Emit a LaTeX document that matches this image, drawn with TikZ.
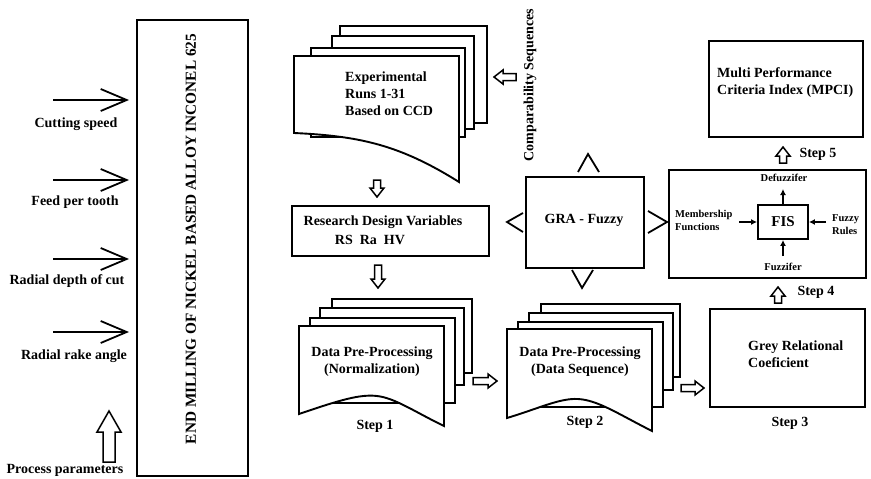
\documentclass[tikz,border=0pt]{standalone}
\usepackage{fontspec}
\setmainfont{Liberation Serif}
\usetikzlibrary{arrows.meta}
\newcommand{\hollowarrow}[4]{%
  \draw[line width=1.5pt, fill=white, line join=miter, shift={(#1,#2)}, rotate=#3]
    (0,0) -- (-9,7) -- (-9,3.5) -- (-#4,3.5) -- (-#4,-3.5) -- (-9,-3.5) -- (-9,-7) -- cycle;}
\begin{document}
\begin{tikzpicture}[x=1pt,y=-1pt,
  box/.style={draw, line width=1.9pt, fill=white},
  lbl/.style={font=\bfseries\fontsize{14}{17}\selectfont, inner sep=0pt},
  small/.style={font=\bfseries\fontsize{10.5}{13}\selectfont, inner sep=0pt},
  ln/.style={line width=1.8pt, line join=miter},
  inarrow/.style={line width=1.8pt, -{Straight Barb[length=26pt,width=22pt,line width=1.8pt]}},
  fisarrow/.style={line width=1.5pt, -{Latex[length=6pt,width=6pt]}},
]
\useasboundingbox[fill=white] (0,0) rectangle (871,479);

% ---------- left part ----------
\node[box, minimum width=111, minimum height=456, anchor=north west] (mill) at (136,19) {};
\node[lbl, rotate=90, font=\bfseries\fontsize{15.3}{17}\selectfont] (milltxt) at (191,239)
  {END MILLING OF NICKEL BASED ALLOY INCONEL 625};

\coordinate (a1) at (53,100);  \coordinate (b1) at (129,100);
\coordinate (a2) at (53,180);  \coordinate (b2) at (129,180);
\coordinate (a3) at (53,259);  \coordinate (b3) at (129,259);
\coordinate (a4) at (53,332);  \coordinate (b4) at (129,332);
\draw[inarrow] (a1) -- (b1);
\draw[inarrow] (a2) -- (b2);
\draw[inarrow] (a3) -- (b3);
\draw[inarrow] (a4) -- (b4);
\node[lbl] (cs) at (76,124) {Cutting speed};
\node[lbl] (fpt) at (75,202) {Feed per tooth};
\node[lbl] (rdc) at (67,281) {Radial depth of cut};
\node[lbl] (rra) at (74,356) {Radial rake angle};

\draw[line width=1.5pt, fill=white, line join=miter]
  (109,411) -- (121,432) -- (115,432) -- (115,462) -- (103,462) -- (103,432) -- (97,432) -- cycle;
\node[lbl] (pp) at (65,470) {Process parameters};

% ---------- experimental runs stack ----------
\draw[box] (340,26) rectangle (487,123);
\draw[box] (332,36) rectangle (474,129);
\draw[box] (311,48) rectangle (465,137);
\draw[box] (294,56) -- (459,56) -- (459,182) .. controls (400,145) and (360,136) .. (294,133) -- cycle;
\node[lbl, align=left, anchor=west] (exp) at (345,94) {Experimental\\Runs 1-31\\Based on CCD};

\hollowarrow{494}{77}{180}{22}
\node[lbl, rotate=90] (comp) at (530,85) {Comparability Sequences};

\hollowarrow{377}{197}{-90}{17}

% ---------- research design variables ----------
\node[box, minimum width=197, minimum height=50] (rdv) at (390.5,231) {};
\node[lbl] (rdv1) at (383,222) {Research Design Variables};
\node[lbl] (rdv2) at (370,240) {RS~~Ra~~HV};

\hollowarrow{378}{288}{-90}{23}

% ---------- data pre-processing 1 ----------
\draw[box] (332,299) rectangle (472,373);
\draw[box] (320,308) rectangle (464,385);
\draw[box] (310,318) rectangle (455,403);
\draw[box] (299,326) -- (444,326) -- (444,426)
  .. controls (415,412) and (395,398) .. (377,396)
  .. controls (360,394) and (340,400) .. (299,414) -- cycle;
\node[lbl, align=center] (dp1) at (372,362) {Data Pre-Processing\\(Normalization)};
\node[lbl] (s1) at (375,426) {Step 1};

\hollowarrow{497}{381}{0}{24}

% ---------- data pre-processing 2 ----------
\draw[box] (541,304) rectangle (680,377);
\draw[box] (529,313) rectangle (673,390);
\draw[box] (518,322) rectangle (663,407);
\draw[box] (507,329) -- (652,329) -- (652,431)
  .. controls (620,415) and (598,400) .. (578,399)
  .. controls (560,398) and (540,408) .. (507,418) -- cycle;
\node[lbl, align=center] (dp2) at (580,361.5) {Data Pre-Processing\\(Data Sequence)};
\node[lbl] (s2) at (585,422) {Step 2};

\hollowarrow{704}{388}{0}{23}

% ---------- GRA - Fuzzy ----------
\node[box, minimum width=118, minimum height=91] (gra) at (585,222.5) {};
\node[lbl] (gratxt) at (584,220) {GRA - Fuzzy};
\draw[ln] (578,172) -- (588,154) -- (599,172);
\draw[ln] (572,270) -- (582,288) -- (593,270);
\draw[ln] (523,213) -- (507,222) -- (523,232);
\draw[ln] (648,211) -- (667,222) -- (648,233);

% ---------- grey relational ----------
\node[box, minimum width=155, minimum height=98] (grey) at (787.5,358) {};
\node[lbl, align=left, anchor=west] (greytxt) at (748,354) {Grey Relational\\Coeficient};
\node[lbl] (s3) at (790,423) {Step 3};

\hollowarrow{778}{287}{90}{16}
\node[lbl] (s4) at (816,292) {Step 4};

% ---------- FIS ----------
\node[box, minimum width=197, minimum height=108] (fisbox) at (767.5,224) {};
\node[box, minimum width=50, minimum height=34, font=\bfseries\fontsize{15}{17}\selectfont] (fis) at (783,222) {FIS};
\node[small] (defuz) at (784,178) {Defuzzifer};
\node[small] (fuz) at (783,267) {Fuzzifer};
\node[small, align=left, anchor=west] (mem) at (675,220) {Membership\\Functions};
\node[small, align=left, anchor=west] (rules) at (832,224.5) {Fuzzy\\Rules};
\coordinate (dtop) at (783,189);
\coordinate (fbot) at (783,256);
\coordinate (mright) at (739,222);
\coordinate (rleft) at (826,222);
\draw[fisarrow] (fis.north) -- (dtop);
\draw[fisarrow] (fbot) -- (fis.south);
\draw[fisarrow] (mright) -- (fis.west);
\draw[fisarrow] (rleft) -- (fis.east);

\hollowarrow{783}{147}{90}{16}
\node[lbl] (s5) at (818,154) {Step 5};

% ---------- MPCI ----------
\node[box, minimum width=154, minimum height=96] (mpci) at (786,89) {};
\node[lbl, align=left, anchor=west] (mpcitxt) at (717,82.5) {Multi Performance\\Criteria Index (MPCI)};
\end{tikzpicture}
\end{document}
